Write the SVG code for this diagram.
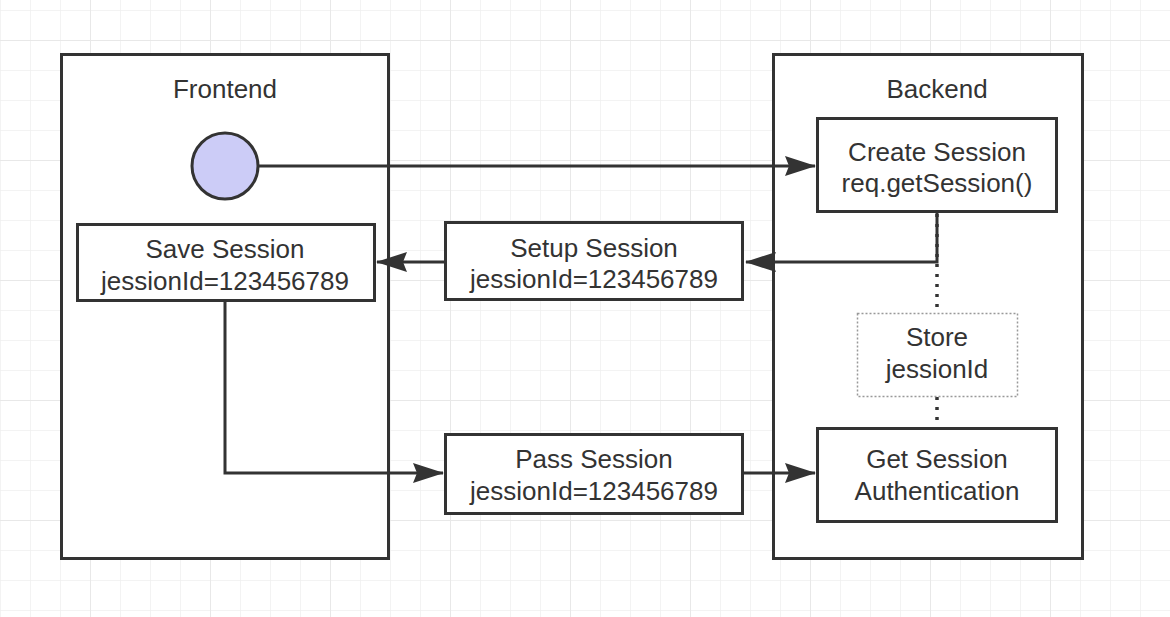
<svg xmlns="http://www.w3.org/2000/svg" width="1170" height="617" viewBox="0 0 1170 617">
<defs>
<pattern id="minor" width="30" height="30" patternUnits="userSpaceOnUse" x="0" y="10">
<path d="M0 0H30M0 0V30" fill="none" stroke="#f0f0f0" stroke-width="1.5"/>
</pattern>
<pattern id="major" width="120" height="120" patternUnits="userSpaceOnUse" x="90" y="40">
<path d="M0 0H120M0 0V120" fill="none" stroke="#e8e8e8" stroke-width="2"/>
</pattern>
<marker id="arr" viewBox="0 0 32 22" refX="30" refY="11" markerWidth="32" markerHeight="22" markerUnits="userSpaceOnUse" orient="auto">
<path d="M0 1 L31 11 L0 21 L4 11 Z" fill="#333"/>
</marker>
</defs>
<style>
.box{fill:#fff;stroke:#333;stroke-width:3}
.t{font-family:"Liberation Sans",Arial,sans-serif;font-size:26px;fill:#333;text-anchor:middle}
.ln{fill:none;stroke:#333;stroke-width:3}
</style>
<rect width="1170" height="617" fill="#fff"/>
<rect width="1170" height="617" fill="url(#minor)"/>
<rect width="1170" height="617" fill="url(#major)"/>

<g id="frontend">
<rect class="box" x="61.5" y="54.5" width="327" height="504"/>
<text class="t" x="225" y="98">Frontend</text>
</g>
<g id="backend">
<rect class="box" x="773.5" y="54.5" width="309" height="504"/>
<text class="t" x="937" y="98">Backend</text>
</g>

<g id="start">
<circle cx="225" cy="166" r="33" fill="#ccccf7" stroke="#333" stroke-width="3"/>
</g>

<g id="connectors">
<path class="ln" d="M258 166 H815" marker-end="url(#arr)"/>
<path class="ln" d="M937 212 V262 H746" marker-end="url(#arr)"/>
<path class="ln" d="M445 262 H377" marker-end="url(#arr)"/>
<path class="ln" d="M225 301 V473 H443" marker-end="url(#arr)"/>
<path class="ln" d="M743 473 H815" marker-end="url(#arr)"/>
<path d="M937 214 V313 M937 397 V428" fill="none" stroke="#333" stroke-width="3.5" stroke-dasharray="3 7"/>
</g>

<g id="create">
<rect class="box" x="817.5" y="118.5" width="239" height="93"/>
<text class="t" x="937" y="161">Create Session</text>
<text class="t" x="937" y="192">req.getSession()</text>
</g>
<g id="save">
<rect class="box" x="77.5" y="224.5" width="297" height="76"/>
<text class="t" x="225" y="258">Save Session</text>
<text class="t" x="225" y="290">jessionId=123456789</text>
</g>
<g id="setup">
<rect class="box" x="445.5" y="222.5" width="297" height="77"/>
<text class="t" x="594" y="257">Setup Session</text>
<text class="t" x="594" y="288">jessionId=123456789</text>
</g>
<g id="store">
<rect x="857.5" y="313.5" width="160" height="83" fill="#fff" stroke="#999" stroke-width="1.5" stroke-dasharray="2 2"/>
<text class="t" x="937" y="346">Store</text>
<text class="t" x="937" y="378">jessionId</text>
</g>
<g id="pass">
<rect class="box" x="445.5" y="434.5" width="297" height="79"/>
<text class="t" x="594" y="468">Pass Session</text>
<text class="t" x="594" y="500">jessionId=123456789</text>
</g>
<g id="get">
<rect class="box" x="817.5" y="428.5" width="239" height="93"/>
<text class="t" x="937" y="468">Get Session</text>
<text class="t" x="937" y="500">Authentication</text>
</g>
</svg>
